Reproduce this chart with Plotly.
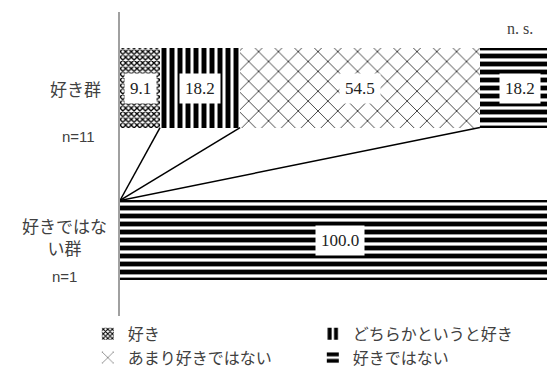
import plotly.graph_objects as go

groups = ["好き群", "好きではない群"]
group_labels = ["好き群", "好きではな<br>い群"]
n_labels = ["n=11", "n=1"]

suki = [9.1, 0.0]
dochiraka = [18.2, 0.0]
amari = [54.5, 0.0]
sukidewanai = [18.2, 100.0]

series_names = ["好き", "どちらかというと好き", "あまり好きではない", "好きではない"]
series_values = [suki, dochiraka, amari, sukidewanai]
note = "n. s."

patterns = [
    dict(shape="x", size=4, solidity=0.55),
    dict(shape="|", size=8, solidity=0.62),
    dict(shape="x", size=14, solidity=0.1),
    dict(shape="-", size=8, solidity=0.6),
]

JP = "Noto Sans CJK JP"
SERIF = "Liberation Serif"
SANS = "Liberation Sans"
TXT = "#404040"
BAR_W = 0.52
ypos = list(range(len(groups)))

fig = go.Figure()

for name, vals, pat in zip(series_names, series_values, patterns):
    fig.add_trace(go.Bar(
        x=vals, y=ypos, orientation="h", name=name, width=BAR_W,
        marker=dict(color="white", line=dict(width=0),
                    pattern=dict(fgcolor="black", bgcolor="white",
                                 fgopacity=1, **pat)),
        hoverinfo="skip",
    ))

# cumulative boundaries for labels and connecting lines
starts = []
run = [0.0] * len(groups)
for vals in series_values:
    starts.append(list(run))
    run = [r + v for r, v in zip(run, vals)]

annotations = []
for vals, st in zip(series_values, starts):
    for i, v in enumerate(vals):
        if v > 0:
            annotations.append(dict(
                x=st[i] + v / 2, y=ypos[i], xref="x", yref="y",
                xanchor="center", yanchor="middle",
                text=f"{v:.1f}", showarrow=False, bgcolor="white",
                borderpad=5, font=dict(family=SERIF, size=17, color="#222")))

# lines connecting the segment boundaries of the two bars
for k in range(1, len(series_values)):
    fig.add_trace(go.Scatter(
        x=[starts[k][0], starts[k][1]],
        y=[ypos[0] + BAR_W / 2, ypos[1] - BAR_W / 2],
        mode="lines", line=dict(color="black", width=1.5),
        showlegend=False, hoverinfo="skip"))

# group labels
PW = 435
annotations.append(dict(x=-45 / PW, y=ypos[0], xref="paper", yref="y",
                        xanchor="center", yanchor="middle",
                        text=group_labels[0], showarrow=False,
                        font=dict(family=JP, size=17, color=TXT)))
annotations.append(dict(x=-42 / PW, y=ypos[0] + 0.32, xref="paper", yref="y",
                        xanchor="center", yanchor="middle",
                        text=n_labels[0], showarrow=False,
                        font=dict(family=SANS, size=15, color=TXT)))
annotations.append(dict(x=-55 / PW, y=ypos[1] - 0.02, xref="paper", yref="y",
                        xanchor="center", yanchor="middle",
                        text=group_labels[1], showarrow=False,
                        font=dict(family=JP, size=17, color=TXT)))
annotations.append(dict(x=-55 / PW, y=ypos[1] + 0.24, xref="paper", yref="y",
                        xanchor="center", yanchor="middle",
                        text=n_labels[1], showarrow=False,
                        font=dict(family=SANS, size=15, color=TXT)))
annotations.append(dict(x=starts[3][0] + sukidewanai[0] / 2, y=-0.39,
                        xref="x", yref="y", xanchor="center", yanchor="middle",
                        text=note, showarrow=False,
                        font=dict(family=SERIF, size=16, color=TXT)))

# the page adds an 8px body margin, so the figure is drawn 8px smaller
fig.update_layout(
    barmode="stack",
    width=547, height=359,
    margin=dict(l=112, r=0, t=4, b=51, autoexpand=False),
    paper_bgcolor="white", plot_bgcolor="white",
    xaxis=dict(range=[0, 98.86], showticklabels=False, showgrid=False,
               zeroline=False, showline=False),
    yaxis=dict(range=[1.5, -0.5], showticklabels=False, showgrid=False,
               zeroline=False, showline=True, linecolor="#a0a0a0",
               linewidth=2),
    legend=dict(orientation="h", x=-0.074, y=-0.003, yanchor="top",
                xanchor="left", entrywidth=180, entrywidthmode="pixels",
                traceorder="normal",
                font=dict(family=JP, size=16, color=TXT),
                tracegroupgap=0, itemwidth=30),
    annotations=annotations,
    showlegend=True,
)

fig.write_html("out.html")
